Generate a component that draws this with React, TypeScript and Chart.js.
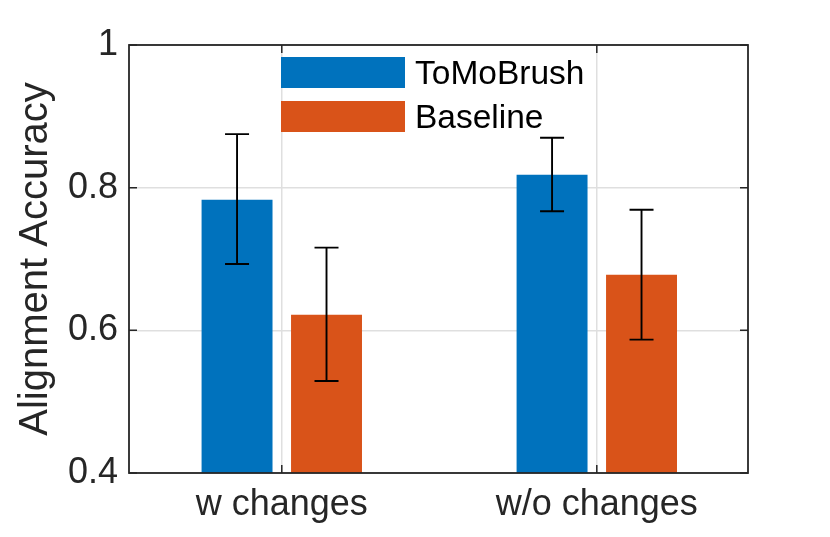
import React, { useEffect, useRef } from 'react';
import { Chart, registerables } from 'chart.js';

Chart.register(...registerables);

const categories = ['w changes', 'w/o changes'];
const categoryPositions = [1, 2];
const seriesNames = ['ToMoBrush', 'Baseline'];
const seriesColors = ['#0072BD', '#D95319'];
const toMoBrushValues = [0.783, 0.818];
const toMoBrushLow = [0.693, 0.767];
const toMoBrushHigh = [0.875, 0.870];
const baselineValues = [0.622, 0.678];
const baselineLow = [0.529, 0.587];
const baselineHigh = [0.716, 0.769];
const yTickValues = [0.4, 0.6, 0.8, 1];
const yTickLabels = ['0.4', '0.6', '0.8', '1'];
const xRange = [0.515, 2.48];
const yRange = [0.4, 1];

const seriesValues = [toMoBrushValues, baselineValues];
const seriesLow = [toMoBrushLow, baselineLow];
const seriesHigh = [toMoBrushHigh, baselineHigh];

const FONT = "'Liberation Sans', Arial, Helvetica, sans-serif";
const AXIS_COLOR = '#262626';
const GRID_COLOR = '#dfdfdf';

const errorBarPlugin = {
  id: 'errorBars',
  afterDatasetsDraw(chart: any) {
    const ctx = chart.ctx;
    const yScale = chart.scales.y;
    ctx.save();
    ctx.strokeStyle = '#000000';
    ctx.lineWidth = 1.9;
    chart.data.datasets.forEach((_ds: any, di: number) => {
      const meta = chart.getDatasetMeta(di);
      meta.data.forEach((el: any, i: number) => {
        const x = el.x;
        const yl = yScale.getPixelForValue(seriesLow[di][i]);
        const yh = yScale.getPixelForValue(seriesHigh[di][i]);
        const cap = 12;
        ctx.beginPath();
        ctx.moveTo(x, yl);
        ctx.lineTo(x, yh);
        ctx.moveTo(x - cap, yl);
        ctx.lineTo(x + cap, yl);
        ctx.moveTo(x - cap, yh);
        ctx.lineTo(x + cap, yh);
        ctx.stroke();
      });
    });
    ctx.restore();
  },
};

const boxLegendPlugin = {
  id: 'boxLegend',
  afterDraw(chart: any) {
    const ctx = chart.ctx;
    const { left, right, top, bottom } = chart.chartArea;
    const xScale = chart.scales.x;
    const yScale = chart.scales.y;
    ctx.save();
    // inward ticks
    ctx.strokeStyle = AXIS_COLOR;
    ctx.lineWidth = 1.5;
    const tl = 8;
    ctx.beginPath();
    yTickValues.forEach((v) => {
      const y = yScale.getPixelForValue(v);
      ctx.moveTo(left, y);
      ctx.lineTo(left + tl, y);
      ctx.moveTo(right, y);
      ctx.lineTo(right - tl, y);
    });
    categoryPositions.forEach((v) => {
      const x = xScale.getPixelForValue(v);
      ctx.moveTo(x, bottom);
      ctx.lineTo(x, bottom - tl);
      ctx.moveTo(x, top);
      ctx.lineTo(x, top + tl);
    });
    ctx.stroke();
    // box
    ctx.lineWidth = 1.8;
    ctx.strokeRect(left, top, right - left, bottom - top);

    // legend
    const lx = left + 152;
    const ly = top + 12;
    const sw = 124;
    const sh = 31;
    const gap = 13;
    ctx.font = `33.5px ${FONT}`;
    ctx.textBaseline = 'middle';
    ctx.textAlign = 'left';
    seriesNames.forEach((name, i) => {
      const y = ly + i * (sh + gap);
      ctx.fillStyle = seriesColors[i];
      ctx.fillRect(lx, y, sw, sh);
      ctx.fillStyle = '#000000';
      ctx.fillText(name, lx + sw + 10, y + sh / 2 + 2);
    });
    ctx.restore();
  },
};

export default function App() {
  const canvasRef = useRef<HTMLCanvasElement | null>(null);

  useEffect(() => {
    if (!canvasRef.current) return;
    const chart = new Chart(canvasRef.current, {
      type: 'bar',
      data: {
        datasets: seriesNames.map((name, di) => ({
          label: name,
          data: categoryPositions.map((x, i) => ({ x, y: seriesValues[di][i] })),
          backgroundColor: seriesColors[di],
          borderWidth: 0,
          categoryPercentage: 0.568,
          barPercentage: 0.793,
        })),
      },
      options: {
        animation: false,
        responsive: true,
        maintainAspectRatio: false,
        layout: { padding: { top: 45, right: 82, left: 0, bottom: 0 } },
        plugins: {
          legend: { display: false },
          tooltip: { enabled: false },
        },
        scales: {
          x: {
            type: 'linear',
            min: xRange[0],
            max: xRange[1],
            offset: false,
            afterBuildTicks: (scale: any) => {
              scale.ticks = categoryPositions.map((v) => ({ value: v }));
            },
            afterFit: (scale: any) => {
              scale.height = 64;
            },
            ticks: {
              callback: (_v: any, idx: number) => categories[idx],
              color: AXIS_COLOR,
              font: { family: FONT, size: 36 },
              padding: 10,
              maxRotation: 0,
              autoSkip: false,
            },
            grid: { color: GRID_COLOR, lineWidth: 1.5, drawTicks: false, offset: false },
            border: { display: false },
          },
          y: {
            min: yRange[0],
            max: yRange[1],
            afterBuildTicks: (scale: any) => {
              scale.ticks = yTickValues.map((v) => ({ value: v }));
            },
            afterFit: (scale: any) => {
              scale.width = 129;
            },
            ticks: {
              callback: (_v: any, idx: number) => yTickLabels[idx],
              color: AXIS_COLOR,
              font: { family: FONT, size: 36 },
              padding: 11,
            },
            grid: { color: GRID_COLOR, lineWidth: 1.5, drawTicks: false },
            border: { display: false },
            title: {
              display: true,
              text: 'Alignment Accuracy',
              color: AXIS_COLOR,
              font: { family: FONT, size: 40 },
              padding: { top: 12, bottom: 0 },
            },
          },
        },
      },
      plugins: [errorBarPlugin, boxLegendPlugin],
    } as any);
    return () => chart.destroy();
  }, []);

  return (
    <div style={{ position: 'fixed', left: 0, top: 0, width: 830, height: 537, background: '#ffffff' }}>
      <canvas ref={canvasRef} />
    </div>
  );
}
